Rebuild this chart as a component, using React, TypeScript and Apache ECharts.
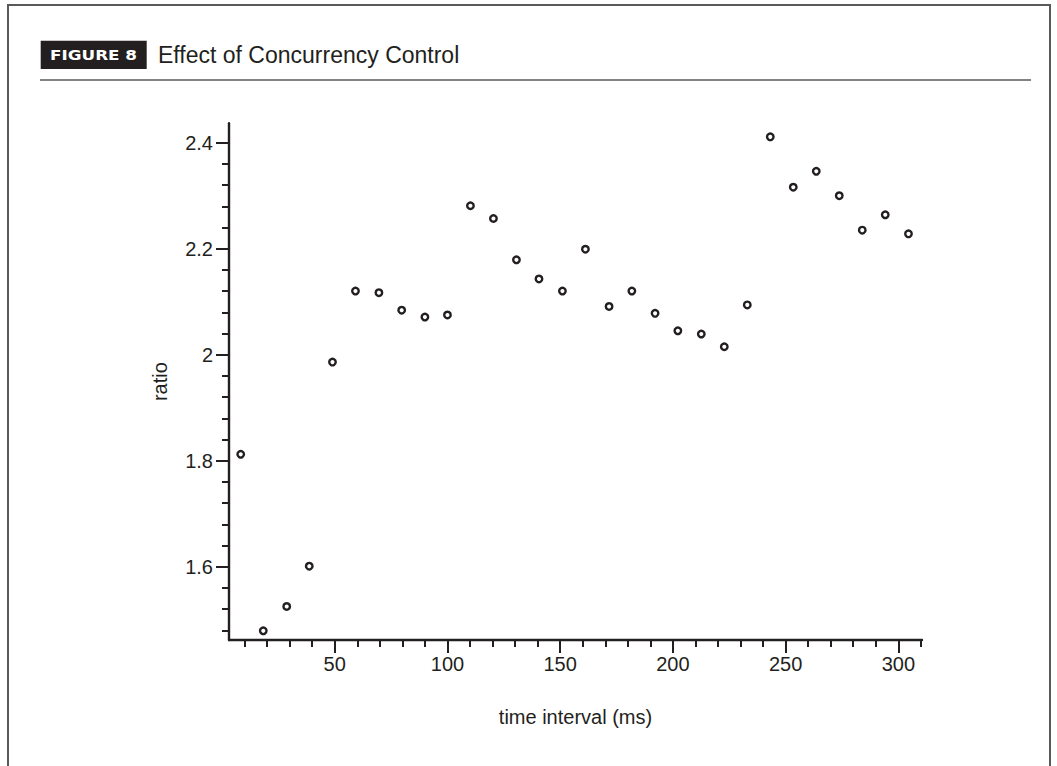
import React, { useEffect, useRef } from "react";
import * as echarts from "echarts";

const timeInterval = [
  8.3, 18.3, 28.7, 38.7, 49.0, 59.2, 69.6, 79.7, 90.0, 100.0,
  110.2, 120.4, 130.6, 140.6, 151.0, 161.2, 171.7, 181.8, 192.1, 202.2,
  212.6, 222.8, 233.0, 243.2, 253.4, 263.6, 273.8, 284.0, 294.2, 304.5,
];
const ratio = [
  1.812, 1.479, 1.525, 1.601, 1.986, 2.12, 2.117, 2.084, 2.071, 2.075,
  2.281, 2.257, 2.179, 2.143, 2.12, 2.199, 2.091, 2.12, 2.078, 2.045,
  2.039, 2.015, 2.094, 2.411, 2.316, 2.346, 2.3, 2.235, 2.264, 2.228,
];
const xMajorTicks = [50, 100, 150, 200, 250, 300];
const xMinorTicks = [10, 20, 30, 40, 60, 70, 80, 90, 110, 120, 130, 140, 160, 170, 180, 190, 210, 220, 230, 240, 260, 270, 280, 290, 310];
const yMajorTicks = [1.6, 1.8, 2.0, 2.2, 2.4];
const yMinorTicks = [1.48, 1.52, 1.56, 1.64, 1.68, 1.72, 1.76, 1.84, 1.88, 1.92, 1.96, 2.04, 2.08, 2.12, 2.16, 2.24, 2.28, 2.32, 2.36];

const INK = "#231f20";
const FONT = "'Liberation Sans', Arial, Helvetica, sans-serif";

export default function App() {
  const ref = useRef<HTMLDivElement>(null);
  useEffect(() => {
    if (!ref.current) return;
    const chart = echarts.init(ref.current, null, { renderer: "svg" });
    const xMin = 3.1;
    const xMax = 310.5;
    const yMin = 1.4617;
    const yMax = 2.4366;
    const axisLineStyle = { color: INK, width: 2.4 };
    chart.setOption({
      animation: false,
      backgroundColor: "#ffffff",
      textStyle: { fontFamily: FONT },
      grid: { left: 229, top: 123.3, width: 693, height: 516.7, containLabel: false },
      xAxis: [
        {
          type: "value",
          min: xMin,
          max: xMax,
          position: "bottom",
          axisLine: { show: true, onZero: false, lineStyle: axisLineStyle },
          axisTick: { show: true, customValues: xMajorTicks, length: 13, lineStyle: { color: INK, width: 2 } },
          axisLabel: {
            show: true,
            customValues: xMajorTicks,
            fontSize: 20,
            color: INK,
            margin: 14,
            fontFamily: FONT,
          },
          splitLine: { show: false },
          name: "time interval (ms)",
          nameLocation: "middle",
          nameGap: 67,
          nameTextStyle: { fontSize: 20, color: INK, fontFamily: FONT },
        },
        {
          type: "value",
          min: xMin,
          max: xMax,
          position: "bottom",
          axisLine: { show: false, onZero: false },
          axisTick: { show: true, customValues: xMinorTicks, length: 7, lineStyle: { color: INK, width: 2 } },
          axisLabel: { show: false },
          splitLine: { show: false },
        },
      ],
      yAxis: [
        {
          type: "value",
          min: yMin,
          max: yMax,
          position: "left",
          axisLine: { show: true, onZero: false, lineStyle: axisLineStyle },
          axisTick: { show: true, customValues: yMajorTicks, length: 13, lineStyle: { color: INK, width: 2 } },
          axisLabel: {
            show: true,
            customValues: yMajorTicks,
            fontSize: 20,
            color: INK,
            margin: 16,
            fontFamily: FONT,
            formatter: (v: number) => String(Number(v.toFixed(1))),
          },
          splitLine: { show: false },
          name: "ratio",
          nameLocation: "middle",
          nameRotate: 90,
          nameGap: 59,
          nameTextStyle: { fontSize: 20, color: INK, fontFamily: FONT },
        },
        {
          type: "value",
          min: yMin,
          max: yMax,
          position: "left",
          axisLine: { show: false, onZero: false },
          axisTick: { show: true, customValues: yMinorTicks, length: 7, lineStyle: { color: INK, width: 2 } },
          axisLabel: { show: false },
          splitLine: { show: false },
        },
      ],
      series: [
        {
          type: "scatter",
          xAxisIndex: 0,
          yAxisIndex: 0,
          data: timeInterval.map((t, i) => [t, ratio[i]]),
          symbol: "circle",
          symbolSize: 6.5,
          itemStyle: { color: "#ffffff", borderColor: INK, borderWidth: 2.4, opacity: 1 },
          emphasis: { disabled: true },
        },
      ],
      graphic: [
        {
          type: "rect",
          shape: { x: 8, y: 5, width: 1042, height: 820 },
          style: { fill: "none", stroke: "#58595b", lineWidth: 2 },
          silent: true,
        },
        {
          type: "line",
          shape: { x1: 40, y1: 80, x2: 1031, y2: 80 },
          style: { stroke: "#58595b", lineWidth: 1.5 },
          silent: true,
        },
        {
          type: "rect",
          shape: { x: 40.7, y: 40.7, width: 106, height: 28.3 },
          style: { fill: INK },
          silent: true,
        },
        {
          type: "text",
          x: 50,
          y: 55,
          scaleX: 1.2,
          style: {
            text: "FIGURE 8",
            fill: "#ffffff",
            font: "bold 14px 'DejaVu Sans', sans-serif",
            verticalAlign: "middle",
            align: "left",
          },
          silent: true,
        },
        {
          type: "text",
          x: 158,
          y: 55,
          style: {
            text: "Effect of Concurrency Control",
            fill: INK,
            font: "23px 'Liberation Sans', Arial, sans-serif",
            verticalAlign: "middle",
            align: "left",
          },
          silent: true,
        },
      ],
    });
    return () => chart.dispose();
  }, []);
  return (
    <div
      ref={ref}
      style={{ position: "fixed", left: 0, top: 0, width: 1057, height: 766, background: "#fff" }}
    />
  );
}
